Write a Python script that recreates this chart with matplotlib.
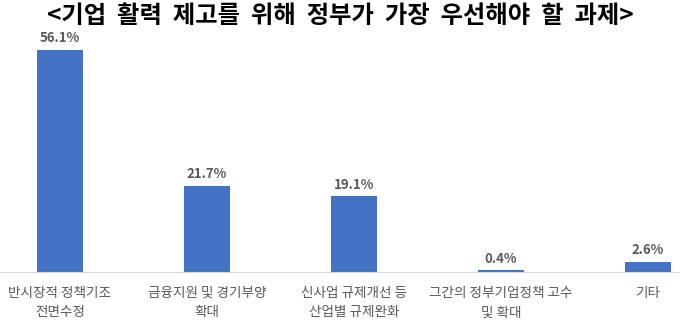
import matplotlib
matplotlib.use('Agg')
import matplotlib.pyplot as plt

plt.rcParams['font.family'] = ['Noto Sans CJK KR', 'DejaVu Sans']

categories = ["반시장적 정책기조\n전면수정", "금융지원 및 경기부양\n확대", "신사업 규제개선 등\n산업별 규제완화",
              "그간의 정부기업정책 고수\n및 확대", "기타"]
values = [56.1, 21.7, 19.1, 0.4, 2.6]
title = "<기업  활력  제고를  위해  정부가  가장  우선해야  할  과제>"

fig = plt.figure(figsize=(6.8, 3.29), dpi=100)
ax = fig.add_axes([-13.5 / 680, 57 / 329, 735 / 680, 237.6 / 329])

x = range(len(values))
ax.bar(x, values, width=0.31, color='#4472C4')
for xi, v in zip(x, values):
    ax.text(xi, v + 1.2, f"{v}%", ha='center', va='bottom', fontsize=9.5,
            fontweight='bold', color='#595959')

ax.set_xlim(-0.5, len(values) - 0.5)
ax.set_ylim(0, 60)
ax.set_xticks(list(x))
ax.set_xticklabels(categories, fontsize=9.8, color='#595959', linespacing=1.5)
ax.tick_params(axis='x', length=0, pad=10)
ax.set_yticks([])
for s in ['top', 'left', 'right']:
    ax.spines[s].set_visible(False)
ax.spines['bottom'].set_color('#D9D9D9')

fig.text(0.5, 1 - 16 / 329, title, ha='center', va='center', fontsize=17.5,
         fontweight='bold', color='black')

plt.savefig('out.png', dpi=100)
